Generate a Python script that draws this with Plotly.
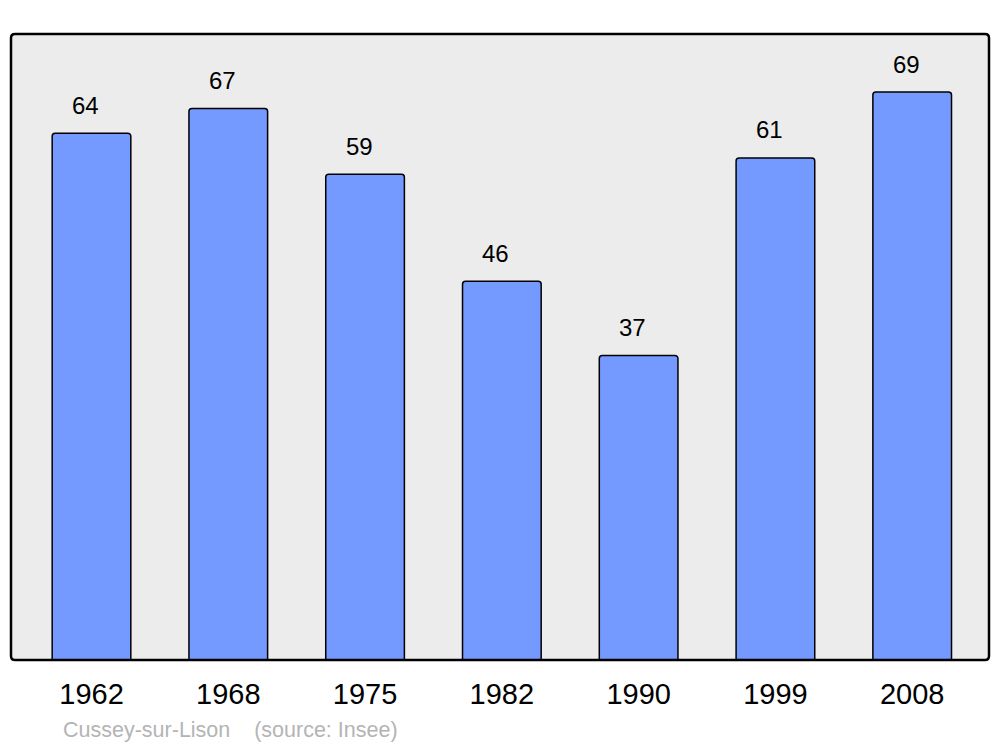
import plotly.graph_objects as go

years = ["1962", "1968", "1975", "1982", "1990", "1999", "2008"]
population = [64, 67, 59, 46, 37, 61, 69]
source_text = "Cussey-sur-Lison\u00a0\u00a0\u00a0\u00a0(source: Insee)"

# page body has an 8px margin: figure occupies (8,8)-(1000,747)
OFF = 8
W, H = 1000 - OFF, 747 - OFF
ml, mt = 11 - OFF, 34 - OFF
mr = W - (989 - OFF)
mb = H - (660 - OFF)
FONT = "Liberation Sans, Arial, sans-serif"

fig = go.Figure()
fig.add_trace(go.Bar(
    x=years, y=population, width=0.575,
    marker=dict(color="#7499ff", line=dict(color="black", width=1.5), cornerradius=3),
    hoverinfo="skip",
))

for i, v in enumerate(population):
    fig.add_annotation(x=i, y=v, xref="x", yref="y", text=str(v), showarrow=False,
                       yanchor="middle", yshift=28, xshift=-6,
                       font=dict(family=FONT, size=24, color="black"))

pw, ph = W - ml - mr, H - mt - mb
r = 4
rx, ry = r / pw, r / ph
path = (f"M {rx},0 L {1-rx},0 Q 1,0 1,{ry} L 1,{1-ry} Q 1,1 {1-rx},1 "
        f"L {rx},1 Q 0,1 0,{1-ry} L 0,{ry} Q 0,0 {rx},0 Z")
fig.add_shape(type="path", xref="paper", yref="paper", path=path,
              line=dict(color="black", width=2.5), fillcolor="rgba(0,0,0,0)", layer="above")

fig.add_annotation(xref="paper", yref="paper", text=source_text, showarrow=False,
                   x=(61 - 11) / pw, y=(660 - 730) / ph, xanchor="left", yanchor="middle",
                   font=dict(family=FONT, size=21.5, color="#b4b4b4"))

fig.update_layout(
    width=W, height=H,
    margin=dict(l=ml, r=mr, t=mt, b=mb),
    paper_bgcolor="white", plot_bgcolor="#ececec",
    showlegend=False,
    xaxis=dict(type="category", range=[-0.5885, 6.5615], showgrid=False, zeroline=False,
               showline=False, ticks="", tickfont=dict(family=FONT, size=29, color="black"),
               ticklabelstandoff=14, fixedrange=True),
    yaxis=dict(range=[0, 76.05], showgrid=False, zeroline=False, showline=False,
               showticklabels=False, fixedrange=True),
)

fig.write_html("out.html", config={"displayModeBar": False})
